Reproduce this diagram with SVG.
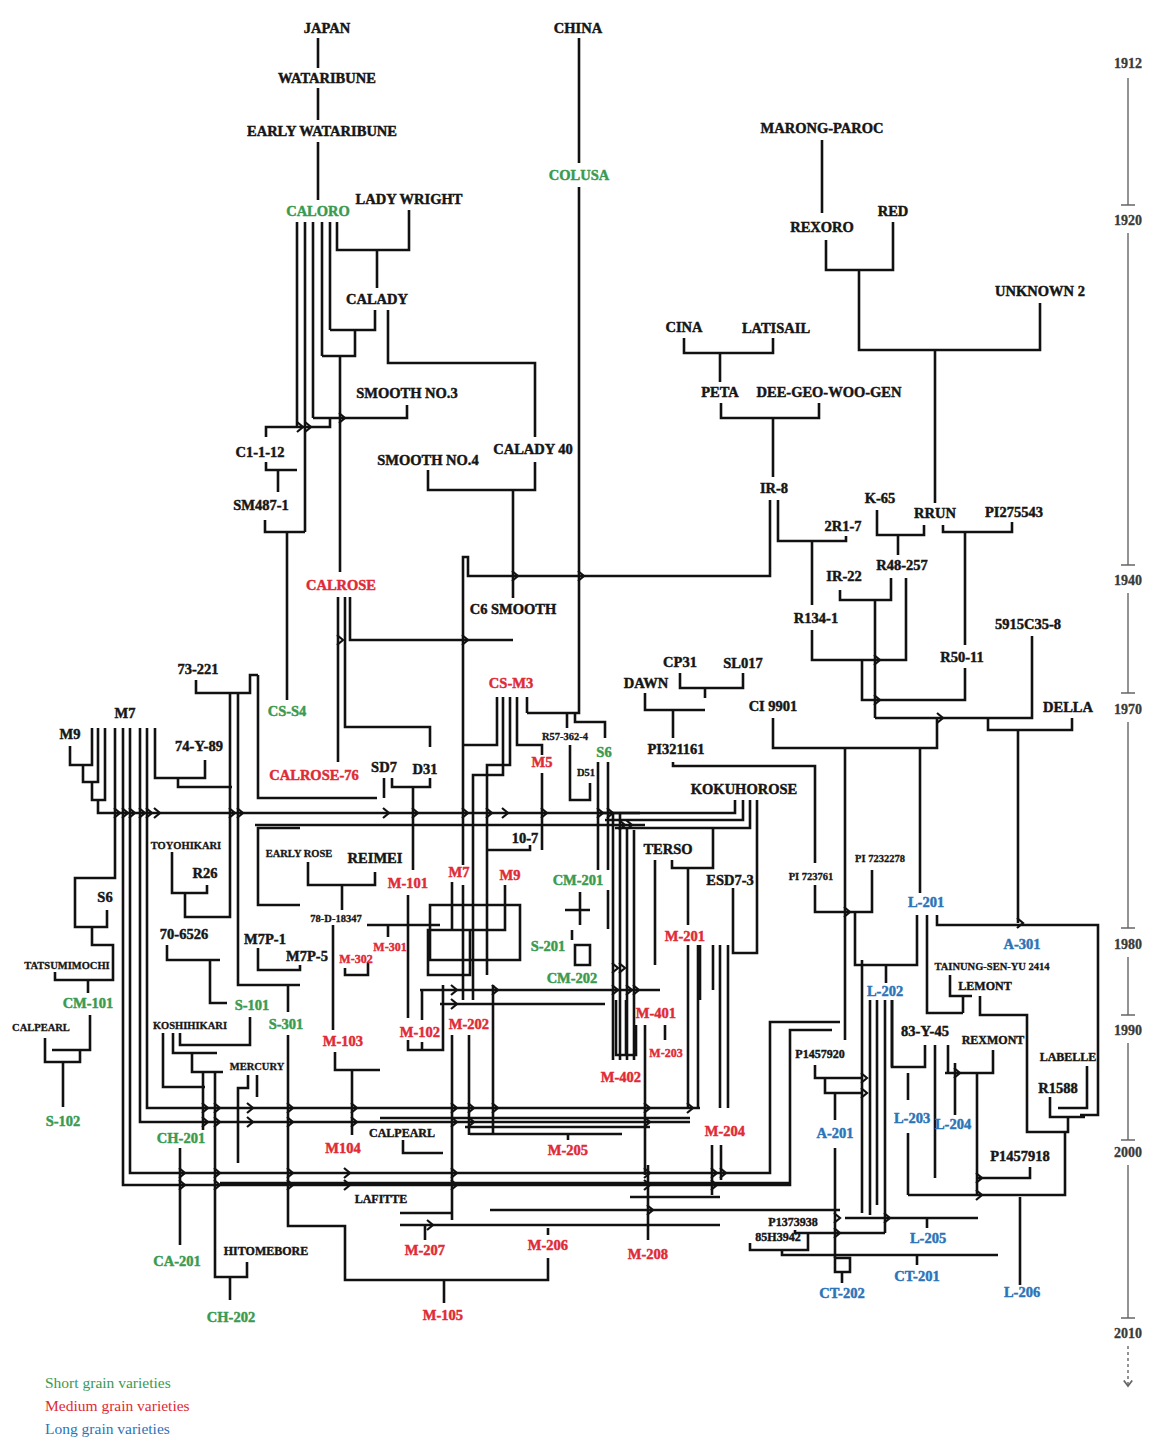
<svg xmlns="http://www.w3.org/2000/svg" xmlns:xlink="http://www.w3.org/1999/xlink" width="1159" height="1443" viewBox="0 0 1159 1443">
<style>
text{font-family:"Liberation Serif","DejaVu Serif",serif;font-weight:bold;font-size:14.5px;text-anchor:middle;fill:#161616;stroke:#161616;stroke-width:0.45}
.sm{font-size:10.5px;stroke-width:0.3}
.md{font-size:12px;stroke-width:0.4}
.g{fill:#3a9a50;stroke:#3a9a50}
.r{fill:#e02a36;stroke:#e02a36}
.b{fill:#2b74b8;stroke:#2b74b8}
.yr{font-size:14px;fill:#3a3a3a;stroke:#3a3a3a;stroke-width:0.3}
.leg{font-weight:normal;font-size:15.5px;text-anchor:start;stroke-width:0}
#links path{fill:none;stroke:#111;stroke-width:2.6;stroke-linejoin:miter}
#links use{stroke:#111;stroke-width:2.2;fill:none}
.tl{stroke:#666;stroke-width:1.4;fill:none}
</style>
<defs>
<path id="cv" d="M-3,-5 L3,0 L-3,5"/>
<marker id="tlarr" markerWidth="8" markerHeight="8" refX="4" refY="4" orient="auto"><path d="M0,1 L4,4 L0,7" fill="none" stroke="#666" stroke-width="1.2"/></marker>
</defs>
<rect width="1159" height="1443" fill="#fff"/>

<g id="links">
<path d="M318,38V68M318,88V120M318,142V200"/>
<path d="M297,222V427M305,222V532M313,222V418M322,222V356M330,222V330M337,222V250H409V210M377,250V288"/>
<path d="M375,310V330H330M355,330V356H322M340,356V572M388,310V363H535V437M407,405V418H313M330,418V427H266V437M266,462V470H297M278,470V492M265,520V532H305M287,532V700"/>
<path d="M428,470V490H535V462M513,490V598M579,38V163M579,187V713H527M567,713V728M575,713V722H605V738"/>
<path d="M822,140V213M826,240V270H893V222M859,270V350H1040V303M935,350V503M684,338V353H773V338M720,353V382M721,403V418H819V403M773,418V477"/>
<path d="M770,500V576H468V557H463V865M463,885V1000M778,500V541H846V536M812,541V605M877,510V535H924V525M898,535V555M943,525V532H1012V522M965,532V645"/>
<path d="M840,590V600H891V578M875,600V718M906,578V660H812V630M862,660V700H965V668M875,718H1032V636M988,718V730H1072V718M1018,730V923"/>
<path d="M773,718V748H937V718M920,748V893M845,748V1040M673,762V766H815V863M815,885V912H872V870M855,912V965H917V915M886,965V983"/>
<path d="M927,915V1013H963M937,915V925H1098V1115H1080M950,975V996H972M963,996V1013M980,996V1015H1027V1132H1068V1117"/>
<path d="M350,597V640H513M338,597V762M345,597V727H430V747M258,675V798H377"/>
<path d="M196,680V693H250V675H258M230,693V917H185V893M238,693V985H300M172,852V893H207V885M167,945V960H220M210,960V1003H227M258,948V970H300V965M288,985V1012"/>
<path d="M70,746V765H92V728M83,765V782H98V728M92,782V800H105V728M98,800V813H640M255,825H645"/>
<path d="M115,728V878H75V927H107V910M92,927V945H113V980H55V972M88,980V993M123,728V1185H790V1030H832M130,728V1173H770V1022H840M140,728V1122H690M147,728V1108H700M155,728V778H205V760M178,778V787H232"/>
<path d="M90,1015V1050H52M45,1038V1062H80V1050M63,1062V1107"/>
<path d="M163,1033V1087H205M173,1033V1053H217M180,1033V1045H250V1017M192,1053V1072H223M203,1072V1130M215,1072V1277H247V1262M230,1277V1300M180,1148V1245M248,1075V1088H238V1163M257,1075V1097M288,1035V1226H345V1280H548V1258M444,1280V1303M335,1052V1070H380M352,1070V1135"/>
<path d="M384,778V798M392,778V787H430V778M413,787V870M300,828H258V905H300M308,862V885H375V872M342,885V910M333,925V1030M367,925H440M388,925V937M345,968V975H368V962"/>
<path d="M408,895V1018M408,1040V1050H433M422,990V1020M422,1042V1050H443V985M452,1035V1220M469,1035V1135M493,985V1135M420,990H660M440,1004H605"/>
<path d="M497,697V745H462M503,697V775H473V1000M510,697V765H487V975M517,697V745H542V755M527,697V713"/>
<path d="M542,773V850M487,850H530V845M505,885V905M452,882V930H505V890M430,905H520V960H430ZM428,930H470V975H428Z"/>
<path d="M570,745V800H590V783M598,762V870M608,762V870M608,890V929M580,892V925M565,910H590M572,930V940M575,945H590V965H575ZM613,813V1060M620,813V1060M627,830V1060M634,830V1060"/>
<path d="M680,673V688H743V673M705,688V698M645,693V710H705M673,710V738"/>
<path d="M735,800V813H600M743,800V820H605M750,800V828H615M757,800V953H733V888M655,860V965M672,860V868H713V828M688,868V925M713,945V990M700,945V1000M688,945V1108M698,945V1108M720,945V1108M728,945V1108"/>
<path d="M645,1025V1175M665,1025V1040M616,1000V1055H636V1025M626,1000V1055"/>
<path d="M380,1118H690M465,1127H650M470,1134H622M568,1134V1140M712,1145V1195M721,1145V1180M220,1183H790M630,1197H720M490,1210H840M400,1225H720M425,1225V1240M548,1228V1235M648,1165V1240M400,1213H452M403,1140V1153H443"/>
<path d="M795,1230V1233H885M750,1243V1250H808V1233M782,1250V1255H998M917,1255V1265M835,1258H850V1272H835ZM842,1272V1283M845,1218H978M927,1218V1228"/>
<path d="M1030,1167V1178H978M908,1195H1065V1132M1020,1197V1285M1050,1097V1117H1085M1087,1066V1108H1058M993,1050V1073H945M977,1073V1195M925,1045V1067H892V1000M935,1045V1178M955,1063V1115M948,1045V1072M908,1073V1100M908,1133V1195"/>
<path d="M815,1065V1078H862M825,1078V1093H862M835,1093V1120M835,1148V1258M862,960V1213M870,1000V1215M877,1000V1205M885,1000V1233M892,1000V1067"/>
<use href="#cv" x="300" y="427"/><use href="#cv" x="308" y="427"/><use href="#cv" x="342" y="418"/><use href="#cv" x="515" y="576"/><use href="#cv" x="581" y="576"/><use href="#cv" x="340" y="640"/>
<use href="#cv" x="465" y="640"/><use href="#cv" x="877" y="660"/><use href="#cv" x="877" y="700"/><use href="#cv" x="940" y="718"/><use href="#cv" x="1020" y="923"/><use href="#cv" x="847" y="912"/>
<use href="#cv" x="117" y="813"/><use href="#cv" x="125" y="813"/><use href="#cv" x="132" y="813"/><use href="#cv" x="142" y="813"/><use href="#cv" x="149" y="813"/><use href="#cv" x="157" y="813"/><use href="#cv" x="232" y="813"/><use href="#cv" x="240" y="813"/>
<use href="#cv" x="386" y="813"/><use href="#cv" x="415" y="813"/><use href="#cv" x="465" y="813"/><use href="#cv" x="489" y="813"/><use href="#cv" x="505" y="813"/><use href="#cv" x="544" y="813"/><use href="#cv" x="600" y="813"/><use href="#cv" x="610" y="813"/><use href="#cv" x="622" y="825"/><use href="#cv" x="629" y="825"/>
<use href="#cv" x="205" y="1108"/><use href="#cv" x="217" y="1108"/><use href="#cv" x="250" y="1108"/><use href="#cv" x="290" y="1108"/><use href="#cv" x="354" y="1108"/><use href="#cv" x="454" y="1108"/><use href="#cv" x="471" y="1108"/><use href="#cv" x="495" y="1108"/><use href="#cv" x="647" y="1108"/><use href="#cv" x="690" y="1108"/>
<use href="#cv" x="205" y="1122"/><use href="#cv" x="217" y="1122"/><use href="#cv" x="250" y="1122"/><use href="#cv" x="290" y="1122"/><use href="#cv" x="354" y="1122"/><use href="#cv" x="454" y="1122"/><use href="#cv" x="471" y="1122"/><use href="#cv" x="647" y="1122"/>
<use href="#cv" x="182" y="1173"/><use href="#cv" x="217" y="1173"/><use href="#cv" x="290" y="1173"/><use href="#cv" x="347" y="1173"/><use href="#cv" x="454" y="1173"/><use href="#cv" x="647" y="1173"/><use href="#cv" x="714" y="1173"/><use href="#cv" x="723" y="1173"/>
<use href="#cv" x="182" y="1185"/><use href="#cv" x="217" y="1185"/><use href="#cv" x="290" y="1185"/><use href="#cv" x="347" y="1185"/><use href="#cv" x="454" y="1185"/><use href="#cv" x="647" y="1185"/><use href="#cv" x="714" y="1185"/>
<use href="#cv" x="430" y="1225"/><use href="#cv" x="650" y="1210"/><use href="#cv" x="837" y="1218"/><use href="#cv" x="837" y="1233"/><use href="#cv" x="864" y="1078"/><use href="#cv" x="864" y="1093"/><use href="#cv" x="957" y="1073"/><use href="#cv" x="979" y="1178"/><use href="#cv" x="979" y="1195"/><use href="#cv" x="887" y="1218"/>
<use href="#cv" x="615" y="968"/><use href="#cv" x="622" y="968"/><use href="#cv" x="629" y="990"/><use href="#cv" x="636" y="990"/><use href="#cv" x="615" y="990"/><use href="#cv" x="454" y="990"/><use href="#cv" x="495" y="990"/><use href="#cv" x="454" y="1004"/>
</g>

<g id="timeline">
<path class="tl" d="M1128,78V205M1121,205H1135M1128,233V565M1121,565H1135M1128,593V693M1121,693H1135M1128,722V928M1121,928H1135M1128,957V1015M1121,1015H1135M1128,1043V1140M1121,1140H1135M1128,1165V1318M1121,1318H1135"/>
<path class="tl" d="M1128,1346V1386" stroke-dasharray="3,3" marker-end="url(#tlarr)"/>
<text class="yr" x="1128" y="68">1912</text><text class="yr" x="1128" y="225">1920</text><text class="yr" x="1128" y="585">1940</text><text class="yr" x="1128" y="714">1970</text>
<text class="yr" x="1128" y="949">1980</text><text class="yr" x="1128" y="1035">1990</text><text class="yr" x="1128" y="1157">2000</text><text class="yr" x="1128" y="1338">2010</text>
</g>

<g id="n-japan"><text x="327" y="33">JAPAN</text></g>
<g id="n-wataribune"><text x="327" y="83">WATARIBUNE</text></g>
<g id="n-early-wataribune"><text x="322" y="136">EARLY WATARIBUNE</text></g>
<g id="n-caloro"><text class="g" x="318" y="216">CALORO</text></g>
<g id="n-lady-wright"><text x="409" y="204">LADY WRIGHT</text></g>
<g id="n-calady"><text x="377" y="304">CALADY</text></g>
<g id="n-smooth3"><text x="407" y="398">SMOOTH NO.3</text></g>
<g id="n-c1112"><text x="260" y="457">C1-1-12</text></g>
<g id="n-sm4871"><text x="261" y="510">SM487-1</text></g>
<g id="n-smooth4"><text x="428" y="465">SMOOTH NO.4</text></g>
<g id="n-calady40"><text x="533" y="454">CALADY 40</text></g>
<g id="n-china"><text x="578" y="33">CHINA</text></g>
<g id="n-colusa"><text class="g" x="579" y="180">COLUSA</text></g>
<g id="n-marong"><text x="822" y="133">MARONG-PAROC</text></g>
<g id="n-red"><text x="893" y="216">RED</text></g>
<g id="n-rexoro"><text x="822" y="232">REXORO</text></g>
<g id="n-unknown2"><text x="1040" y="296">UNKNOWN 2</text></g>
<g id="n-cina"><text x="684" y="332">CINA</text></g>
<g id="n-latisail"><text x="776" y="333">LATISAIL</text></g>
<g id="n-peta"><text x="720" y="397">PETA</text></g>
<g id="n-dgwg"><text x="829" y="397">DEE-GEO-WOO-GEN</text></g>
<g id="n-ir8"><text x="774" y="493">IR-8</text></g>
<g id="n-k65"><text x="880" y="503">K-65</text></g>
<g id="n-rrun"><text x="935" y="518">RRUN</text></g>
<g id="n-pi275543"><text x="1014" y="517">PI275543</text></g>
<g id="n-2r17"><text x="843" y="531">2R1-7</text></g>
<g id="n-r48257"><text x="902" y="570">R48-257</text></g>
<g id="n-ir22"><text x="844" y="581">IR-22</text></g>
<g id="n-r1341"><text x="816" y="623">R134-1</text></g>
<g id="n-5915"><text x="1028" y="629">5915C35-8</text></g>
<g id="n-r5011"><text x="962" y="662">R50-11</text></g>
<g id="n-della"><text x="1068" y="712">DELLA</text></g>
<g id="n-ci9901"><text x="773" y="711">CI 9901</text></g>
<g id="n-calrose"><text class="r" x="341" y="590">CALROSE</text></g>
<g id="n-c6smooth"><text x="513" y="614">C6 SMOOTH</text></g>
<g id="n-csm3"><text class="r" x="511" y="688">CS-M3</text></g>
<g id="n-73221"><text x="198" y="674">73-221</text></g>
<g id="n-css4"><text class="g" x="287" y="716">CS-S4</text></g>
<g id="n-m7"><text x="125" y="718">M7</text></g>
<g id="n-m9"><text x="70" y="739">M9</text></g>
<g id="n-74y89"><text x="199" y="751">74-Y-89</text></g>
<g id="n-calrose76"><text class="r" x="314" y="780">CALROSE-76</text></g>
<g id="n-sd7"><text x="384" y="772">SD7</text></g>
<g id="n-d31"><text x="425" y="774">D31</text></g>
<g id="n-r573624"><text class="sm" x="565" y="740">R57-362-4</text></g>
<g id="n-s6g"><text class="g" x="604" y="757">S6</text></g>
<g id="n-m5"><text class="r" x="542" y="767">M5</text></g>
<g id="n-d51"><text class="sm" x="586" y="776">D51</text></g>
<g id="n-cp31"><text x="680" y="667">CP31</text></g>
<g id="n-sl017"><text x="743" y="668">SL017</text></g>
<g id="n-dawn"><text x="646" y="688">DAWN</text></g>
<g id="n-pi321161"><text x="676" y="754">PI321161</text></g>
<g id="n-kokuhorose"><text x="744" y="794">KOKUHOROSE</text></g>
<g id="n-terso"><text x="668" y="854">TERSO</text></g>
<g id="n-esd73"><text x="730" y="885">ESD7-3</text></g>
<g id="n-pi723761"><text class="sm" x="811" y="880">PI 723761</text></g>
<g id="n-pi7232278"><text class="sm" x="880" y="862">PI 7232278</text></g>
<g id="n-107"><text x="525" y="843">10-7</text></g>
<g id="n-m7r"><text class="r" x="459" y="877">M7</text></g>
<g id="n-m9r"><text class="r" x="510" y="880">M9</text></g>
<g id="n-m101"><text class="r" x="408" y="888">M-101</text></g>
<g id="n-earlyrose"><text class="sm" x="299" y="857">EARLY ROSE</text></g>
<g id="n-reimei"><text x="375" y="863">REIMEI</text></g>
<g id="n-toyohikari"><text class="sm" x="186" y="849">TOYOHIKARI</text></g>
<g id="n-r26"><text x="205" y="878">R26</text></g>
<g id="n-s6"><text x="105" y="902">S6</text></g>
<g id="n-706526"><text x="184" y="939">70-6526</text></g>
<g id="n-m7p1"><text x="265" y="944">M7P-1</text></g>
<g id="n-m7p5"><text x="307" y="961">M7P-5</text></g>
<g id="n-78d"><text class="sm" x="336" y="922">78-D-18347</text></g>
<g id="n-m301"><text class="r md" x="390" y="951">M-301</text></g>
<g id="n-m302"><text class="r md" x="356" y="963">M-302</text></g>
<g id="n-cm201"><text class="g" x="578" y="885">CM-201</text></g>
<g id="n-s201"><text class="g" x="548" y="951">S-201</text></g>
<g id="n-cm202"><text class="g" x="572" y="983">CM-202</text></g>
<g id="n-m201"><text class="r" x="685" y="941">M-201</text></g>
<g id="n-tatsumimochi"><text class="sm" x="67" y="969">TATSUMIMOCHI</text></g>
<g id="n-cm101"><text class="g" x="88" y="1008">CM-101</text></g>
<g id="n-s101"><text class="g" x="252" y="1010">S-101</text></g>
<g id="n-s301"><text class="g" x="286" y="1029">S-301</text></g>
<g id="n-calpearl1"><text class="sm" x="41" y="1031">CALPEARL</text></g>
<g id="n-koshihikari"><text class="sm" x="190" y="1029">KOSHIHIKARI</text></g>
<g id="n-mercury"><text class="sm" x="257" y="1070">MERCURY</text></g>
<g id="n-m103"><text class="r" x="343" y="1046">M-103</text></g>
<g id="n-m102"><text class="r" x="420" y="1037">M-102</text></g>
<g id="n-m202"><text class="r" x="469" y="1029">M-202</text></g>
<g id="n-m401"><text class="r" x="656" y="1018">M-401</text></g>
<g id="n-m203"><text class="r md" x="666" y="1057">M-203</text></g>
<g id="n-m402"><text class="r" x="621" y="1082">M-402</text></g>
<g id="n-s102"><text class="g" x="63" y="1126">S-102</text></g>
<g id="n-ch201"><text class="g" x="181" y="1143">CH-201</text></g>
<g id="n-m104"><text class="r" x="343" y="1153">M104</text></g>
<g id="n-calpearl2"><text class="md" x="402" y="1137">CALPEARL</text></g>
<g id="n-m205"><text class="r" x="568" y="1155">M-205</text></g>
<g id="n-m204"><text class="r" x="725" y="1136">M-204</text></g>
<g id="n-lafitte"><text class="md" x="381" y="1203">LAFITTE</text></g>
<g id="n-m207"><text class="r" x="425" y="1255">M-207</text></g>
<g id="n-m206"><text class="r" x="548" y="1250">M-206</text></g>
<g id="n-m208"><text class="r" x="648" y="1259">M-208</text></g>
<g id="n-m105"><text class="r" x="443" y="1320">M-105</text></g>
<g id="n-ca201"><text class="g" x="177" y="1266">CA-201</text></g>
<g id="n-hitomebore"><text class="md" x="266" y="1255">HITOMEBORE</text></g>
<g id="n-ch202"><text class="g" x="231" y="1322">CH-202</text></g>
<g id="n-l201"><text class="b" x="926" y="907">L-201</text></g>
<g id="n-a301"><text class="b" x="1022" y="949">A-301</text></g>
<g id="n-tainung"><text class="sm" x="992" y="970">TAINUNG-SEN-YU 2414</text></g>
<g id="n-lemont"><text class="md" x="985" y="990">LEMONT</text></g>
<g id="n-l202"><text class="b" x="885" y="996">L-202</text></g>
<g id="n-83y45"><text x="925" y="1036">83-Y-45</text></g>
<g id="n-rexmont"><text class="md" x="993" y="1044">REXMONT</text></g>
<g id="n-labelle"><text class="md" x="1068" y="1061">LABELLE</text></g>
<g id="n-p1457920"><text class="md" x="820" y="1058">P1457920</text></g>
<g id="n-r1588"><text x="1058" y="1093">R1588</text></g>
<g id="n-a201"><text class="b" x="835" y="1138">A-201</text></g>
<g id="n-l203"><text class="b" x="912" y="1123">L-203</text></g>
<g id="n-l204"><text class="b" x="953" y="1129">L-204</text></g>
<g id="n-p1457918"><text x="1020" y="1161">P1457918</text></g>
<g id="n-p1373938"><text class="md" x="793" y="1226">P1373938</text></g>
<g id="n-85h3942"><text class="md" x="778" y="1241">85H3942</text></g>
<g id="n-l205"><text class="b" x="928" y="1243">L-205</text></g>
<g id="n-ct201"><text class="b" x="917" y="1281">CT-201</text></g>
<g id="n-ct202"><text class="b" x="842" y="1298">CT-202</text></g>
<g id="n-l206"><text class="b" x="1022" y="1297">L-206</text></g>

<g id="legend">
<text class="leg g" x="45" y="1388">Short grain varieties</text>
<text class="leg r" x="45" y="1411">Medium grain varieties</text>
<text class="leg b" x="45" y="1434">Long grain varieties</text>
</g>
</svg>
